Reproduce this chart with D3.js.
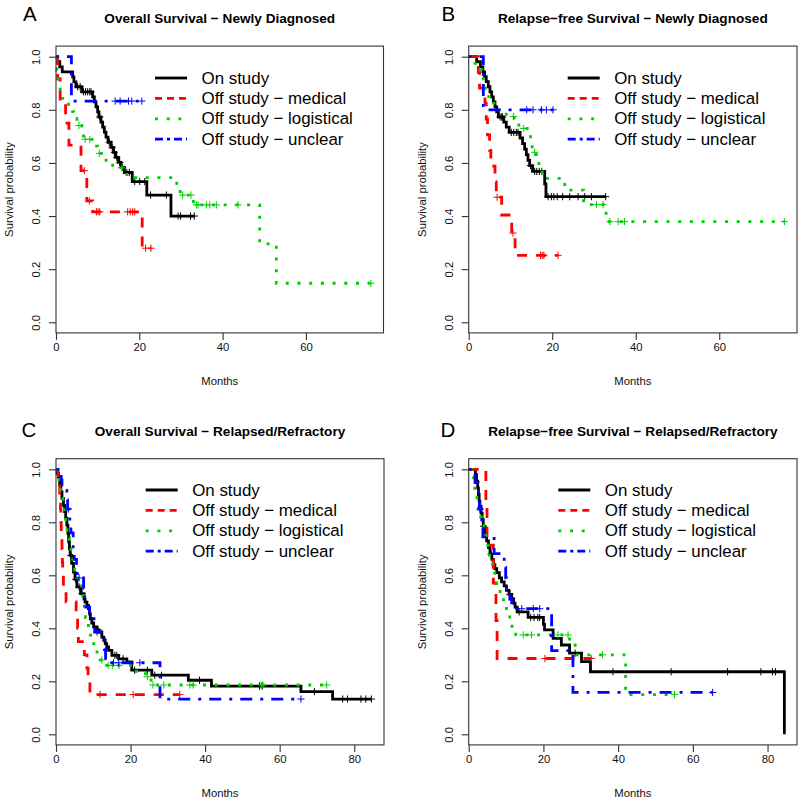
<!DOCTYPE html>
<html><head><meta charset="utf-8">
<script src="https://cdn.jsdelivr.net/npm/d3@7/dist/d3.min.js"></script>
<style>body{margin:0;background:#fff}svg{display:block;font-family:"Liberation Sans",Arial,Helvetica,sans-serif}</style>
</head><body><svg id="c" width="800" height="802"></svg>
<script>
// ---------- data ----------
const groups = ["On study", "Off study \u2212 medical", "Off study \u2212 logistical", "Off study \u2212 unclear"];
const panelLetters = ["A", "B", "C", "D"];
const panelTitles = [
  "Overall Survival \u2212 Newly Diagnosed",
  "Relapse\u2212free Survival \u2212 Newly Diagnosed",
  "Overall Survival \u2212 Relapsed/Refractory",
  "Relapse\u2212free Survival \u2212 Relapsed/Refractory"
];
const xTicksNew = [0, 20, 40, 60];
const xTicksRel = [0, 20, 40, 60, 80];
const yTicks = [0, 0.2, 0.4, 0.6, 0.8, 1.0];
const xLabel = "Months";
const yLabel = "Survival probability";

// Panel A: overall survival, newly diagnosed  ([month, survival] after each event; censor months)
const A_on_steps = [[0.4,0.981],[0.9,0.962],[1.5,0.943],[4.0,0.924],[4.3,0.905],[4.8,0.887],[6.2,0.868],[8.8,0.849],[9.2,0.830],[9.6,0.811],[10.0,0.792],[10.3,0.773],[10.8,0.754],[11.2,0.735],[11.6,0.716],[12.0,0.697],[12.5,0.678],[13.2,0.659],[13.8,0.640],[14.3,0.621],[15.0,0.602],[15.6,0.583],[16.4,0.564],[18.3,0.530],[21.8,0.479],[27.6,0.400]];
const A_on_cens = [5.2,5.8,6.6,7.1,7.6,8.1,8.4,10.5,12.8,13.5,14.0,14.6,15.3,16.0,17.0,17.6,18.9,20.1,21.3,22.7,26.5,29.3,29.9,32.3,33.2];
const A_med_steps = [[0.4,0.917],[1.0,0.833],[2.3,0.750],[3.1,0.667],[6.0,0.571],[7.4,0.457],[8.8,0.416],[20.7,0.279]];
const A_med_cens = [6.8,8.0,9.7,10.1,10.5,17.2,17.8,18.4,18.9,21.5,22.8];
const A_log_steps = [[0.2,0.95],[0.6,0.90],[1.0,0.843],[3.0,0.793],[4.2,0.768],[5.0,0.741],[6.2,0.714],[6.6,0.689],[9.0,0.663],[10.0,0.636],[12.0,0.61],[13.6,0.582],[17.0,0.545],[29.0,0.511],[29.8,0.479],[33.0,0.442],[48.9,0.295],[52.9,0.147]];
const A_log_cens = [5.5,7.0,8.1,10.4,15.8,30.4,32.4,33.7,34.1,36.1,36.9,38.5,43.7,75.6];
const A_unc_steps = [[3.7,0.833]];
const A_unc_cens = [14.2,15.4,17.4,18.2,20.6];

// Panel B: relapse-free survival, newly diagnosed
const B_on_steps = [[1.9,0.981],[2.8,0.962],[3.4,0.943],[3.8,0.925],[4.2,0.906],[4.7,0.887],[5.1,0.868],[5.5,0.849],[5.9,0.830],[6.3,0.811],[6.7,0.792],[7.1,0.773],[8.4,0.754],[9.0,0.735],[9.7,0.715],[12.3,0.694],[12.9,0.673],[13.4,0.652],[13.8,0.631],[14.2,0.610],[14.6,0.590],[15.3,0.568],[18.2,0.521],[18.5,0.473]];
const B_on_cens = [7.5,7.9,8.1,10.2,10.8,11.4,11.8,14.8,15.8,16.3,16.9,17.5,19.0,19.8,20.4,21.2,22.5,24.2,26.2,27.8,29.4,32.8];
const B_med_steps = [[2.3,0.941],[2.6,0.882],[3.9,0.824],[4.2,0.765],[4.5,0.706],[5.0,0.647],[5.3,0.588],[6.3,0.529],[6.6,0.471],[7.9,0.404],[10.3,0.336],[11.1,0.252]];
const B_med_cens = [6.8,10.6,17.2,17.6,18.0,21.4];
const B_log_steps = [[1.5,0.975],[2.7,0.95],[3.1,0.925],[3.5,0.90],[4.0,0.875],[4.4,0.85],[5.0,0.825],[7.2,0.80],[9.0,0.775],[10.9,0.75],[12.0,0.73],[14.0,0.705],[14.8,0.67],[15.2,0.64],[16.2,0.61],[16.8,0.585],[17.6,0.542],[23.0,0.498],[27.5,0.443],[32.9,0.40],[33.3,0.379]];
const B_log_cens = [10.7,13.2,15.8,30.6,32.2,33.8,35.8,37.3,75.6];
const B_unc_steps = [[3.5,0.80]];
const B_unc_cens = [13.9,15.4,17.4,18.6,20.2];

// Panel C: overall survival, relapsed/refractory
const C_on_steps = [[0.3,0.985],[0.7,0.97],[1.0,0.94],[1.3,0.915],[1.6,0.89],[2.0,0.864],[2.3,0.84],[2.6,0.815],[2.9,0.789],[3.2,0.757],[3.4,0.726],[3.6,0.70],[3.8,0.675],[4.2,0.645],[4.7,0.612],[5.1,0.585],[5.6,0.556],[6.6,0.531],[7.5,0.51],[7.8,0.499],[8.3,0.486],[8.7,0.474],[9.0,0.455],[9.2,0.436],[9.6,0.42],[10.1,0.405],[11.0,0.395],[11.4,0.386],[12.3,0.367],[12.8,0.355],[13.2,0.342],[13.6,0.33],[14.1,0.317],[15.0,0.298],[16.8,0.285],[19.0,0.273],[20.3,0.242],[25.7,0.223],[35.5,0.204],[41.7,0.182],[65.7,0.161],[74.2,0.133]];
const C_on_cens = [4.0,5.3,6.2,7.0,11.2,15.8,16.3,18.0,21.1,24.5,26.5,28.3,38.5,54.6,55.3,69.3,76.9,78.2,81.8,83.1,84.6];
const C_med_steps = [[0.6,0.95],[1.0,0.9],[1.2,0.85],[1.3,0.80],[1.4,0.75],[1.6,0.70],[1.7,0.65],[1.8,0.60],[2.0,0.55],[2.7,0.50],[5.4,0.45],[5.8,0.40],[6.0,0.35],[7.6,0.30],[8.3,0.25],[8.6,0.20],[9.1,0.15]];
const C_med_cens = [11.8,20.7,33.2];
const C_log_steps = [[0.3,0.98],[0.8,0.95],[1.2,0.92],[1.5,0.89],[1.8,0.86],[2.2,0.83],[2.6,0.80],[3.0,0.77],[3.3,0.74],[3.6,0.71],[4.0,0.68],[4.5,0.65],[5.0,0.62],[5.6,0.59],[6.2,0.56],[6.8,0.53],[7.3,0.50],[7.6,0.47],[7.9,0.44],[8.3,0.417],[8.7,0.395],[9.2,0.374],[10.1,0.342],[11.0,0.31],[11.6,0.29],[12.0,0.28],[13.0,0.26],[20.5,0.238],[24.0,0.217],[25.5,0.186]];
const C_log_cens = [12.3,14.0,15.2,16.9,24.5,26.0,28.9,35.9,36.8,55.0,55.5,72.6];
const C_unc_steps = [[1.4,0.96],[1.6,0.92],[2.9,0.885],[3.1,0.85],[3.7,0.80],[4.0,0.76],[4.6,0.70],[4.9,0.66],[5.5,0.62],[5.7,0.59],[7.4,0.55],[7.7,0.51],[8.0,0.48],[9.0,0.45],[10.2,0.41],[10.4,0.386],[12.0,0.36],[13.0,0.32],[13.3,0.27],[27.9,0.133]];
const C_unc_cens = [3.3,6.2,11.0,15.4,16.8,22.5,65.7];

// Panel D: relapse-free survival, relapsed/refractory
const D_on_steps = [[1.8,0.98],[2.1,0.955],[2.4,0.93],[2.6,0.905],[2.8,0.88],[3.0,0.86],[3.3,0.835],[3.6,0.81],[3.9,0.785],[4.3,0.76],[4.8,0.73],[5.3,0.705],[5.7,0.68],[6.2,0.66],[6.6,0.64],[7.0,0.625],[7.5,0.61],[8.2,0.59],[8.8,0.575],[9.5,0.56],[10.1,0.543],[10.8,0.528],[11.5,0.512],[12.0,0.495],[12.4,0.48],[13.0,0.462],[15.9,0.441],[20.0,0.415],[20.3,0.394],[22.6,0.362],[24.8,0.337],[27.0,0.306],[30.2,0.274],[32.6,0.236],[84.5,0.0]];
const D_on_cens = [4.0,6.0,11.0,13.5,16.6,17.5,18.5,19.0,28.5,38.6,54.2,69.3,78.2,81.3,82.1];
const D_med_steps = [[4.6,0.857],[4.9,0.714],[6.6,0.571],[7.3,0.429],[7.6,0.286]];
const D_med_cens = [20.4,32.8];
const D_log_steps = [[0.8,0.97],[1.3,0.94],[1.6,0.91],[2.2,0.88],[2.6,0.85],[3.2,0.82],[3.6,0.79],[4.1,0.76],[4.6,0.73],[5.1,0.70],[5.6,0.67],[6.4,0.64],[7.0,0.60],[7.5,0.57],[8.1,0.55],[8.4,0.526],[9.3,0.494],[10.1,0.462],[11.0,0.424],[11.6,0.40],[12.6,0.375],[27.0,0.337],[28.5,0.30],[42.0,0.15]];
const D_log_cens = [14.6,16.8,23.9,26.6,35.8,55.1];
const D_unc_steps = [[1.7,0.95],[2.6,0.90],[2.9,0.85],[3.5,0.80],[3.8,0.745],[6.8,0.682],[9.5,0.63],[9.9,0.59],[10.1,0.55],[11.0,0.51],[11.5,0.474],[22.2,0.316],[27.9,0.158]];
const D_unc_cens = [3.0,14.2,17.3,19.0,65.3];

// ---------- styles / layout ----------
const colors = ["#000000", "#FF0000", "#00CD00", "#0000FF"];
const dashes = [null, "10,9", "3,8.7", "3,8,12,8"];
const legDashes = [null, "7,5", "3,8.7", "8,4,3,4"];
const lineW = 2.8;

const panels = [
  {curves: [[A_on_steps,A_on_cens],[A_med_steps,A_med_cens],[A_log_steps,A_log_cens],[A_unc_steps,A_unc_cens]],
   xt: xTicksNew, box: {l: 56, r: 383.5, t: 46.1, b: 332.9}, leg: {x: 155, y: 78}, lx: 23, ly: 20.7},
  {curves: [[B_on_steps,B_on_cens],[B_med_steps,B_med_cens],[B_log_steps,B_log_cens],[B_unc_steps,B_unc_cens]],
   xt: xTicksNew, box: {l: 468.7, r: 797, t: 46.1, b: 332.9}, leg: {x: 567.7, y: 78}, lx: 441.5, ly: 20.7},
  {curves: [[C_on_steps,C_on_cens],[C_med_steps,C_med_cens],[C_log_steps,C_log_cens],[C_unc_steps,C_unc_cens]],
   xt: xTicksRel, box: {l: 56, r: 384, t: 458.7, b: 744.9}, leg: {x: 145.7, y: 490}, lx: 21.5, ly: 437.3},
  {curves: [[D_on_steps,D_on_cens],[D_med_steps,D_med_cens],[D_log_steps,D_log_cens],[D_unc_steps,D_unc_cens]],
   xt: xTicksRel, box: {l: 468.7, r: 797, t: 458.7, b: 744.9}, leg: {x: 558.3, y: 490}, lx: 440.5, ly: 437.3}
];

const svg = d3.select("#c");

function survAt(steps, t) {
  let s = 1;
  for (const [tt, ss] of steps) { if (tt <= t) s = ss; else break; }
  return s;
}

panels.forEach((p, i) => {
  const g = svg.append("g");
  const maxT = d3.max(p.curves, c => Math.max(d3.max(c[0], d => d[0]), d3.max(c[1]) || 0));
  const x = d3.scaleLinear().domain([0, maxT * 1.04]).range([p.box.l, p.box.r]);
  const y = d3.scaleLinear().domain([-0.04, 1.04]).range([p.box.b, p.box.t]);

  const line = d3.line().x(d => x(d[0])).y(d => y(d[1])).curve(d3.curveStepAfter);
  p.curves.forEach((c, k) => {
    const [steps, cens] = c;
    const last = steps[steps.length - 1];
    const end = Math.max(last[0], d3.max(cens) || 0);
    const pts = [[0, 1], ...steps, [end, last[1]]];
    g.append("path").attr("d", line(pts)).attr("fill", "none")
      .attr("stroke", colors[k]).attr("stroke-width", lineW)
      .attr("stroke-dasharray", dashes[k]).attr("stroke-linejoin", "miter");
    g.append("g").selectAll("path").data(cens).join("path")
      .attr("d", t => {
        const cx = x(t), cy = y(survAt(steps, t));
        return `M${cx - 3.6},${cy}H${cx + 3.6}M${cx},${cy - 3.6}V${cy + 3.6}`;
      })
      .attr("stroke", colors[k]).attr("stroke-width", 1).attr("fill", "none");
  });

  g.append("rect").attr("x", p.box.l).attr("y", p.box.t)
    .attr("width", p.box.r - p.box.l).attr("height", p.box.b - p.box.t)
    .attr("fill", "none").attr("stroke", "#333").attr("stroke-width", 1.1);

  const xa = d3.axisBottom(x).tickValues(p.xt).tickSize(7).tickPadding(3).tickFormat(d3.format("d"));
  const gx = g.append("g").attr("transform", `translate(0,${p.box.b})`).call(xa);
  gx.select(".domain").remove();
  gx.selectAll("line").attr("stroke", "#333").attr("stroke-width", 1.1);
  gx.selectAll("text").attr("font-size", 11.3).attr("fill", "#111").attr("font-family", null);

  const ya = d3.axisLeft(y).tickValues(yTicks).tickSize(7).tickPadding(0).tickFormat(d3.format(".1f"));
  const gy = g.append("g").attr("transform", `translate(${p.box.l},0)`).call(ya);
  gy.select(".domain").remove();
  gy.selectAll("line").attr("stroke", "#333").attr("stroke-width", 1.1);
  gy.selectAll("text").attr("font-size", 11.3).attr("fill", "#111").attr("font-family", null)
    .attr("x", null).attr("dy", null).attr("text-anchor", "middle")
    .attr("transform", "translate(-20,0) rotate(-90)").attr("dominant-baseline", "central");

  g.append("text").attr("x", (p.box.l + p.box.r) / 2).attr("y", p.box.b + 52.5)
    .attr("text-anchor", "middle").attr("font-size", 11.3).attr("fill", "#111").text(xLabel);
  g.append("text").attr("transform", `translate(${p.box.l - 43},${(p.box.t + p.box.b) / 2}) rotate(-90)`)
    .attr("text-anchor", "middle").attr("font-size", 11.3).attr("fill", "#111").text(yLabel);

  g.append("text").attr("x", (p.box.l + p.box.r) / 2).attr("y", p.box.t - 23)
    .attr("text-anchor", "middle").attr("font-size", 13.6).attr("font-weight", "bold").text(panelTitles[i]);
  g.append("text").attr("x", p.lx).attr("y", p.ly).attr("font-size", 20.5).text(panelLetters[i]);

  const lg = g.append("g");
  groups.forEach((name, k) => {
    const yy = p.leg.y + k * 20.4;
    lg.append("line").attr("x1", p.leg.x).attr("x2", p.leg.x + 32).attr("y1", yy).attr("y2", yy)
      .attr("stroke", colors[k]).attr("stroke-width", lineW).attr("stroke-dasharray", legDashes[k]);
    lg.append("text").attr("x", p.leg.x + 46.5).attr("y", yy).attr("dominant-baseline", "central")
      .attr("font-size", 16.9).attr("fill", "#000").text(name);
  });
});
</script></body></html>
